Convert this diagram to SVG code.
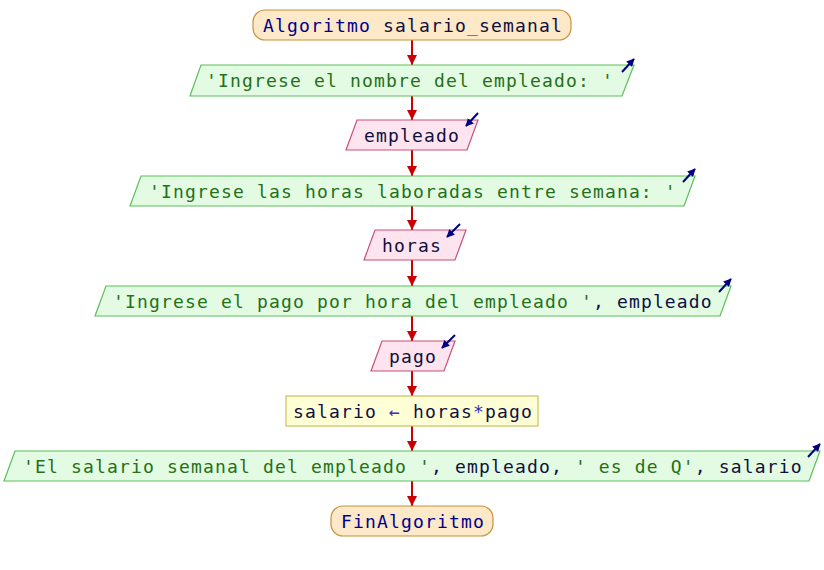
<svg xmlns="http://www.w3.org/2000/svg" width="824" height="570" viewBox="0 0 824 570">
<style>
text{font-family:"DejaVu Sans Mono","Liberation Mono",monospace;font-size:18px;letter-spacing:1.16px;fill:#101040}
.term{fill:#fde9c8;stroke:#c8913a;stroke-width:1.2}
.out{fill:#e2fbe2;stroke:#5cbf5c;stroke-width:1.2}
.in{fill:#fde4ee;stroke:#c8507a;stroke-width:1.2}
.proc{fill:#ffffd6;stroke:#c8c060;stroke-width:1.2}
.kw{fill:#000090}
.str{fill:#267018}
.op{fill:#3030c0}
.conn line{stroke:#cc0000;stroke-width:2}
.io{stroke:#000080;stroke-width:2;fill:none}
</style>
<defs>
<marker id="ah" viewBox="0 0 10 10" refX="10" refY="5" markerWidth="5" markerHeight="5" orient="auto" markerUnits="strokeWidth">
<path d="M0,0 L10,5 L0,10 z" fill="#cc0000"/>
</marker>
<marker id="ioh" viewBox="0 0 10 10" refX="9" refY="5" markerWidth="4" markerHeight="4" orient="auto" markerUnits="strokeWidth">
<path d="M0,0 L10,5 L0,10 z" fill="#000080"/>
</marker>
</defs>
<g class="conn">
<line x1="412" y1="40" x2="412" y2="65" marker-end="url(#ah)"/>
<line x1="412" y1="96" x2="412" y2="120" marker-end="url(#ah)"/>
<line x1="412" y1="150" x2="412" y2="176" marker-end="url(#ah)"/>
<line x1="412" y1="206" x2="412" y2="230" marker-end="url(#ah)"/>
<line x1="412" y1="260" x2="412" y2="286" marker-end="url(#ah)"/>
<line x1="412" y1="316" x2="412" y2="341" marker-end="url(#ah)"/>
<line x1="412" y1="371" x2="412" y2="396" marker-end="url(#ah)"/>
<line x1="412" y1="426" x2="412" y2="451" marker-end="url(#ah)"/>
<line x1="412" y1="481" x2="412" y2="506" marker-end="url(#ah)"/>
</g>
<g id="start">
<rect class="term" x="253" y="10" width="318" height="30" rx="12"/>
<text x="263" y="31.5"><tspan class="kw">Algoritmo</tspan> salario_semanal</text>
</g>
<g id="out1">
<polygon class="out" points="201,65 634,65 622,96 190,96"/>
<text x="206" y="87" class="str">'Ingrese el nombre del empleado: '</text>
<line class="io" x1="622" y1="72" x2="634" y2="59" marker-end="url(#ioh)"/>
</g>
<g id="in1">
<polygon class="in" points="357,120 478,120 467,150 346,150"/>
<text x="364" y="142">empleado</text>
<line class="io" x1="478" y1="113" x2="466" y2="126" marker-end="url(#ioh)"/>
</g>
<g id="out2">
<polygon class="out" points="141,176 695,176 684,206 130,206"/>
<text x="149" y="198" class="str">'Ingrese las horas laboradas entre semana: '</text>
<line class="io" x1="683" y1="182" x2="695" y2="169" marker-end="url(#ioh)"/>
</g>
<g id="in2">
<polygon class="in" points="375,230 466,230 455,260 364,260"/>
<text x="382" y="252">horas</text>
<line class="io" x1="460" y1="224" x2="447" y2="237" marker-end="url(#ioh)"/>
</g>
<g id="out3">
<polygon class="out" points="106,286 731,286 720,316 95,316"/>
<text x="113" y="308"><tspan class="str">'Ingrese el pago por hora del empleado '</tspan>, empleado</text>
<line class="io" x1="719" y1="292" x2="731" y2="279" marker-end="url(#ioh)"/>
</g>
<g id="in3">
<polygon class="in" points="382,341 455,341 444,371 371,371"/>
<text x="389" y="363">pago</text>
<line class="io" x1="455" y1="335" x2="442" y2="348" marker-end="url(#ioh)"/>
</g>
<g id="proc">
<rect class="proc" x="286" y="396" width="252" height="30"/>
<text x="293" y="418">salario <tspan class="op">←</tspan> horas<tspan class="op">*</tspan>pago</text>
</g>
<g id="out4">
<polygon class="out" points="15,451 820,451 809,481 4,481"/>
<text x="23" y="473"><tspan class="str">'El salario semanal del empleado '</tspan>, empleado, <tspan class="str">' es de Q'</tspan>, salario</text>
<line class="io" x1="808" y1="457" x2="820" y2="444" marker-end="url(#ioh)"/>
</g>
<g id="end">
<rect class="term" x="331" y="506" width="162" height="30" rx="12"/>
<text x="341" y="528" class="kw">FinAlgoritmo</text>
</g>
</svg>
